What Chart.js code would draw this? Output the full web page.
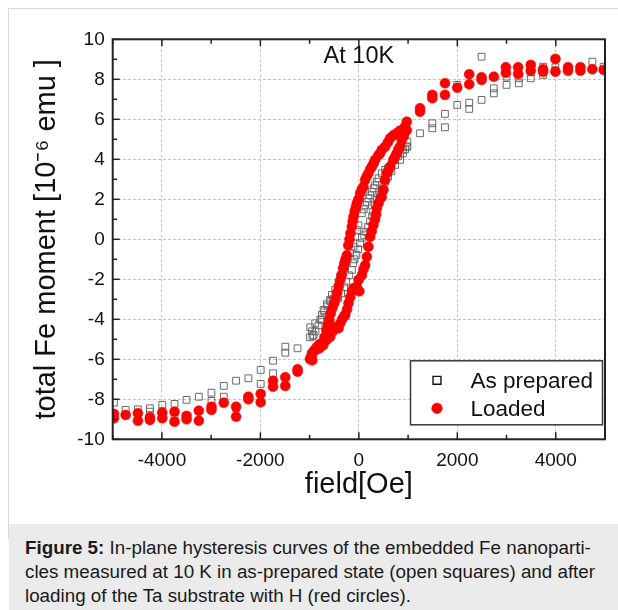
<!DOCTYPE html>
<html>
<head>
<meta charset="utf-8">
<script src="https://cdn.jsdelivr.net/npm/chart.js@4.4.1/dist/chart.umd.min.js"></script>
<style>
html,body{margin:0;padding:0;background:#fff;width:618px;height:610px;overflow:hidden;font-family:"Liberation Sans",Arial,sans-serif}
#frame{position:absolute;left:8px;top:8px;width:640px;height:530px;border-left:1.5px solid #dadada;border-top:1.5px solid #dadada}
#c{position:absolute;left:0;top:0}
#caption{position:absolute;left:9px;top:524px;width:609px;height:86px;background:#ebebeb}
#caption p{margin:0;position:absolute;left:16px;top:12px;font-size:18.8px;line-height:24px;color:#1a1a1a;white-space:nowrap}
</style>
</head>
<body>
<div id="frame"></div>
<canvas id="c" width="618" height="524"></canvas>
<div id="caption"><p><b>Figure 5:</b> In-plane hysteresis curves of the embedded Fe nanoparti-<br>cles measured at 10 K in as-prepared state (open squares) and after<br>loading of the Ta substrate with H (red circles).</p></div>
<script>
// ---------- tick values ----------
const xTickLabels = [-4000, -2000, 0, 2000, 4000];
const xMinorTicks = [-5000, -3000, -1000, 1000, 3000, 5000];
const yTickLabels = [-10, -8, -6, -4, -2, 0, 2, 4, 6, 8, 10];
const yMinorTicks = [-9, -7, -5, -3, -1, 1, 3, 5, 7, 9];

// ---------- As prepared (open squares): [field Oe, moment 1e-6 emu] ----------
const preparedNegTail = [[-4975,-8.17],[-4737,-8.53],[-4488,-8.50],[-4244,-8.45],[-4244,-8.62],[-3993,-8.28],[-3993,-8.60],[-3744,-8.23],[-3744,-8.79],[-3500,-8.03],[-3251,-7.87],[-2994,-7.67],[-2994,-8.08],[-2744,-7.33],[-2744,-7.87],[-2494,-7.07],[-2494,-8.45],[-2244,-6.95],[-1994,-6.53],[-1994,-7.23],[-1743,-6.07],[-1743,-6.70],[-1494,-5.37],[-1494,-5.67],[-1245,-5.45]];
const preparedDown = [[-987,-4.40],[-950,-4.60],[-920,-4.78],[-886,-4.20],[-784,-4.03],[-750,-3.78],[-717,-3.53],[-650,-3.25],[-582,-3.03],[-547,-2.78],[-480,-2.53],[-413,-2.20],[-379,-1.87],[-312,-1.62],[-280,-1.35],[-243,-1.12],[-176,-0.70],[-109,-0.37],[-75,0.13],[-40,0.45],[-8,0.70],[61,1.30],[100,1.50],[128,1.70],[162,1.87],[195,2.05],[229,2.20],[264,2.38],[300,2.55],[330,2.70],[365,2.88],[400,3.05],[466,3.30],[533,3.47],[594,3.55],[660,3.72],[736,3.97],[800,4.15],[837,4.30],[898,4.47],[973,4.63]];
const preparedUp = [[-990,-4.90],[-940,-4.85],[-880,-4.60],[-820,-4.30],[-760,-4.00],[-700,-3.60],[-640,-3.35],[-582,-3.10],[-530,-3.00],[-480,-2.90],[-420,-2.95],[-360,-2.70],[-300,-2.40],[-260,-2.12],[-200,-1.80],[-142,-1.53],[-116,-1.20],[-90,-1.00],[-50,-0.78],[-14,-0.50],[26,-0.20],[61,0.07],[110,0.20],[150,0.38],[189,0.63],[229,0.90],[270,1.15],[290,1.38],[330,1.70],[365,1.97],[432,2.20],[466,2.50],[533,2.88],[594,3.13],[660,3.40],[736,3.72],[837,3.97],[898,4.30],[940,4.50]];
const preparedPosTail = [[986,4.88],[986,4.63],[1243,5.30],[1492,5.80],[1492,5.55],[1749,6.27],[1749,5.60],[1999,7.72],[1999,6.72],[2242,6.83],[2242,6.52],[2493,9.13],[2493,6.97],[2742,7.55],[2742,7.30],[3000,8.13],[3000,7.72],[3249,7.80],[3249,8.05],[3492,8.05],[3492,8.35],[3742,8.63],[3742,8.22],[3993,8.60],[3993,8.45],[4249,8.60],[4500,8.62],[4743,8.88],[4972,8.63]];

// ---------- Loaded (red circles) ----------
const loadedNegTail = [[-4975,-8.73],[-4975,-8.95],[-4737,-8.78],[-4488,-8.70],[-4488,-9.07],[-4244,-8.90],[-4244,-9.03],[-3993,-8.67],[-3993,-8.95],[-3744,-8.62],[-3744,-9.12],[-3500,-8.83],[-3500,-9.00],[-3251,-8.57],[-3251,-9.07],[-2994,-8.37],[-2994,-8.53],[-2744,-8.17],[-2494,-8.37],[-2494,-8.87],[-2244,-7.87],[-2244,-8.00],[-1994,-7.73],[-1994,-8.15],[-1743,-7.07],[-1743,-7.37],[-1494,-6.90],[-1494,-7.33],[-1245,-6.50],[-1245,-6.62]];
const loadedDown = [[-987,-5.95],[-953,-5.78],[-886,-5.53],[-851,-5.37],[-800,-5.25],[-750,-5.20],[-700,-4.90],[-660,-4.55],[-630,-4.30],[-600,-4.03],[-570,-3.70],[-540,-3.45],[-500,-3.20],[-470,-2.95],[-440,-2.65],[-410,-2.35],[-379,-2.05],[-350,-1.78],[-320,-1.45],[-295,-1.20],[-270,-1.00],[-243,-0.80],[-215,-0.30],[-190,0.00],[-170,0.30],[-142,0.63],[-125,0.90],[-109,1.13],[-85,1.40],[-60,1.60],[-41,1.80],[-10,2.00],[26,2.30],[60,2.50],[93,2.63],[128,2.97],[160,3.15],[195,3.30],[230,3.50],[264,3.63],[300,3.80],[330,3.97],[397,4.20],[430,4.30],[466,4.47],[533,4.63],[590,4.85],[634,5.05],[701,5.20],[770,5.30],[820,5.40],[872,5.47],[938,5.63],[973,5.88]];
const loadedUp = [[-990,-6.00],[-945,-6.05],[-953,-5.70],[-906,-5.55],[-860,-5.50],[-800,-5.45],[-724,-5.30],[-660,-5.05],[-620,-4.92],[-582,-4.87],[-530,-4.60],[-480,-4.40],[-413,-4.45],[-379,-4.20],[-340,-4.00],[-300,-3.85],[-278,-3.78],[-240,-3.50],[-211,-3.20],[-176,-2.90],[-140,-2.62],[-109,-2.45],[-70,-2.50],[-41,-2.37],[10,-2.60],[-8,-2.03],[61,-1.80],[95,-1.50],[128,-1.30],[162,-0.87],[195,-0.37],[229,0.13],[260,0.40],[296,0.72],[330,1.00],[350,1.25],[365,1.55],[400,1.80],[440,2.05],[466,2.13],[499,2.47],[533,2.97],[568,3.30],[600,3.45],[634,3.63],[701,3.97],[740,4.15],[770,4.30],[803,4.50],[840,4.65],[872,4.97],[910,5.15],[938,5.38],[973,5.45]];
const loadedPosTail = [[1243,6.55],[1243,6.38],[1492,7.22],[1492,7.05],[1749,7.80],[1749,7.22],[1999,7.58],[2242,8.25],[2242,7.75],[2493,8.10],[2493,7.97],[2742,8.13],[2986,8.60],[2986,8.33],[3235,8.60],[3235,8.27],[3492,8.72],[3492,8.43],[3742,8.50],[3742,8.38],[3993,9.02],[3993,8.38],[4249,8.60],[4249,8.43],[4500,8.60],[4500,8.43],[4743,8.50],[4972,8.47]];

const seriesLabels = ['As prepared', 'Loaded'];
const annotationText = 'At 10K';

// ---------- build ----------
const toPts = (...arrs) => arrs.flat().map(([x, y]) => ({x, y}));
const FONT = '"Liberation Sans", Arial, sans-serif';

const decor = {
  id: 'decor',
  afterDraw(chart) {
    const {ctx, chartArea: a, scales: {x, y}} = chart;
    ctx.save();
    // inward ticks
    ctx.strokeStyle = '#222';
    ctx.lineWidth = 1.5;
    const tk = (x1, y1, x2, y2) => { ctx.beginPath(); ctx.moveTo(x1, y1); ctx.lineTo(x2, y2); ctx.stroke(); };
    xTickLabels.forEach(v => { const p = x.getPixelForValue(v); tk(p, a.bottom, p, a.bottom - 7); tk(p, a.top, p, a.top + 7); });
    xMinorTicks.forEach(v => { const p = x.getPixelForValue(v); tk(p, a.bottom, p, a.bottom - 4.5); tk(p, a.top, p, a.top + 4.5); });
    yTickLabels.forEach(v => { const p = y.getPixelForValue(v); tk(a.left, p, a.left + 7, p); });
    yMinorTicks.forEach(v => { const p = y.getPixelForValue(v); tk(a.left, p, a.left + 4.5, p); });
    // frame
    ctx.lineWidth = 2;
    ctx.strokeStyle = '#222';
    ctx.strokeRect(a.left, a.top, a.right - a.left, a.bottom - a.top);
    // annotation
    ctx.fillStyle = '#111';
    ctx.font = '23.5px ' + FONT;
    ctx.textAlign = 'center';
    ctx.textBaseline = 'middle';
    ctx.fillText(annotationText, (a.left + a.right) / 2, a.top + 17);
    // legend box
    const bw = 192, bh = 64;
    const bx = a.right - 2.5 - bw, by = a.bottom - 14.5 - bh;
    ctx.fillStyle = '#fff';
    ctx.fillRect(bx, by, bw, bh);
    ctx.lineWidth = 1.5;
    ctx.strokeStyle = '#3a3a3a';
    ctx.strokeRect(bx, by, bw, bh);
    ctx.font = '22.5px ' + FONT;
    ctx.textAlign = 'left';
    chart.data.datasets.forEach((ds, i) => {
      const cy = by + 19.5 + i * 28;
      const mx = bx + 26.5;
      ctx.fillStyle = i === 0 ? '#fff' : ds.backgroundColor;
      ctx.strokeStyle = i === 0 ? '#111' : ds.borderColor;
      ctx.lineWidth = i === 0 ? 1.4 : 0.5;
      Chart.helpers.drawPoint(ctx, {
        pointStyle: ds.pointStyle,
        radius: i === 0 ? 5.6 : 5.3,
        borderWidth: i === 0 ? 1.4 : 0.5,
        rotation: 0
      }, mx, cy);
      ctx.fillStyle = '#111';
      ctx.fillText(ds.label, bx + 60, cy + 1);
    });
    ctx.restore();
  }
};

new Chart(document.getElementById('c'), {
  type: 'scatter',
  data: {
    datasets: [
      {
        label: seriesLabels[0],
        data: toPts(preparedNegTail, preparedDown, preparedUp, preparedPosTail),
        pointStyle: 'rect',
        pointRadius: 4.8,
        borderWidth: 1,
        borderColor: '#6a6a6a',
        backgroundColor: 'rgba(255,255,255,0)',
        order: 2
      },
      {
        label: seriesLabels[1],
        data: toPts(loadedNegTail, loadedDown, loadedUp, loadedPosTail),
        pointStyle: 'circle',
        pointRadius: 5,
        borderWidth: 0.5,
        borderColor: '#ff0000',
        backgroundColor: '#ff0000',
        order: 1
      }
    ]
  },
  options: {
    responsive: false,
    animation: false,
    devicePixelRatio: 1,
    layout: {padding: {top: 39.3, right: 13, bottom: 14.7, left: 0}},
    plugins: {legend: {display: false}, tooltip: {enabled: false}},
    scales: {
      x: {
        type: 'linear', min: -5000, max: 5000,
        afterBuildTicks: s => { s.ticks = xTickLabels.map(v => ({value: v})); },
        afterFit: s => { s.height = 70; },
        grid: {color: '#c4c4c4', lineWidth: 1, drawTicks: false},
        border: {display: false, dash: [3, 2]},
        ticks: {padding: 10, color: '#111', font: {size: 19, family: FONT}, callback: v => String(v)},
        title: {display: true, text: 'field[Oe]', color: '#111', font: {size: 29, family: FONT}, padding: {top: 0, bottom: 7}}
      },
      y: {
        type: 'linear', min: -10, max: 10,
        afterBuildTicks: s => { s.ticks = yTickLabels.map(v => ({value: v})); },
        afterFit: s => { s.width = 112.7; },
        grid: {color: '#c4c4c4', lineWidth: 1, drawTicks: false},
        border: {display: false, dash: [3, 2]},
        ticks: {padding: 8, color: '#111', font: {size: 19, family: FONT}, callback: v => String(v)},
        title: {display: true, text: 'total Fe moment [10⁻⁶ emu ]', color: '#111', font: {size: 29, family: FONT}, padding: {top: 30, bottom: 0}}
      }
    }
  },
  plugins: [decor]
});
</script>
</body>
</html>
